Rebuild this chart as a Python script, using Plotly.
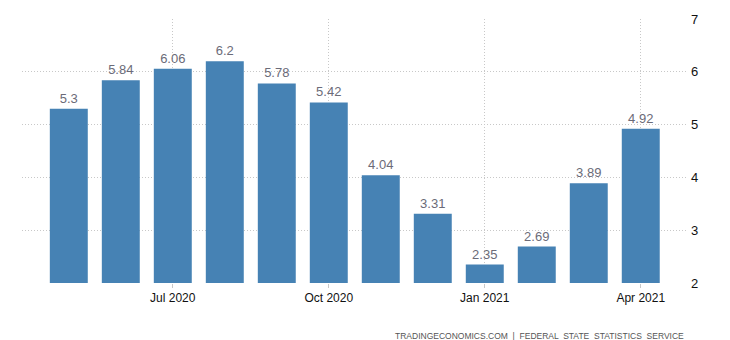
import plotly.graph_objects as go

# Monthly values, May 2020 - Apr 2021
months = ["May 2020", "Jun 2020", "Jul 2020", "Aug 2020", "Sep 2020", "Oct 2020",
          "Nov 2020", "Dec 2020", "Jan 2021", "Feb 2021", "Mar 2021", "Apr 2021"]
values = [5.3, 5.84, 6.06, 6.2, 5.78, 5.42, 4.04, 3.31, 2.35, 2.69, 3.89, 4.92]
tick_months = ["Jul 2020", "Oct 2020", "Jan 2021", "Apr 2021"]
y_ticks = [2, 3, 4, 5, 6, 7]
baseline = 2

positions = list(range(len(months)))
labels = [f"{v:g}" for v in values]

# bars sit on the axis floor, so each bar spans baseline -> value
fig = go.Figure(go.Bar(
    x=positions,
    y=[v - baseline for v in values],
    base=baseline,
    marker=dict(color="#4682B4", line=dict(width=0)),
    width=0.73,
    text=labels,
    textposition="outside",
    textfont=dict(family="Liberation Sans, Arial, sans-serif", size=13, color="#6b6b78"),
    cliponaxis=False,
    hoverinfo="skip",
))

grid_dash = "1px,2px"
fig.update_layout(
    width=730, height=340,
    margin=dict(l=22, r=44, t=19, b=57),
    plot_bgcolor="white", paper_bgcolor="white",
    showlegend=False,
    font=dict(family="Liberation Sans, Arial, sans-serif", size=12, color="#111"),
)
fig.update_xaxes(
    range=[-0.9, 11.87],
    tickmode="array",
    tickvals=[months.index(m) for m in tick_months],
    ticktext=tick_months,
    showgrid=True, gridcolor="#c8c8c8", griddash=grid_dash, gridwidth=1,
    ticks="outside", ticklen=4, tickcolor="#c8c8c8",
    showline=False, zeroline=False,
    tickfont=dict(size=12, color="#111"),
)
fig.update_yaxes(
    range=[2, 7],
    side="right",
    tickvals=y_ticks,
    showgrid=True, gridcolor="#c8c8c8", griddash=grid_dash, gridwidth=1,
    zeroline=False, showline=False,
    ticks="", ticklabelstandoff=4,
    tickfont=dict(size=13, color="#111"),
)
fig.add_annotation(
    text="TRADINGECONOMICS.COM  |  FEDERAL  STATE  STATISTICS  SERVICE",
    xref="paper", yref="paper", x=1.0, y=-0.2, xanchor="right", yanchor="middle",
    showarrow=False,
    font=dict(family="Liberation Sans, Arial, sans-serif", size=8.5, color="#555"),
)

fig.write_html("out.html")
